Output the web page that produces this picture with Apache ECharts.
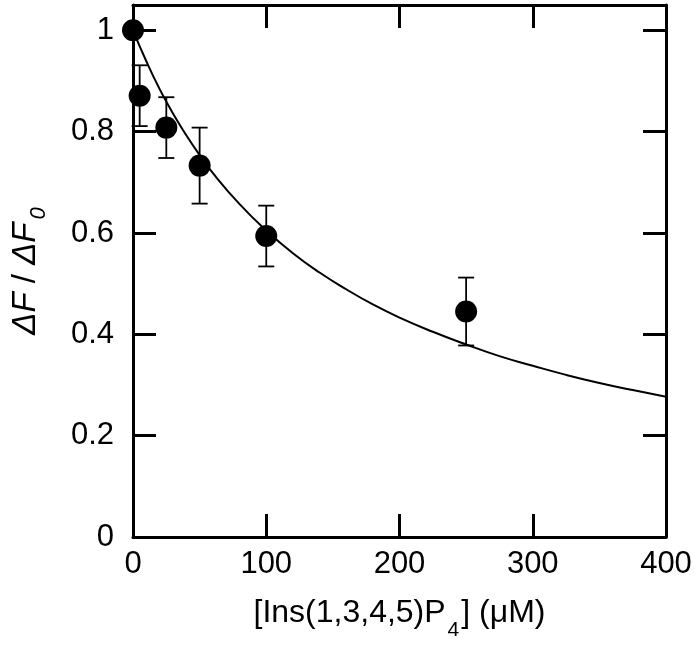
<!DOCTYPE html>
<html>
<head>
<meta charset="utf-8">
<script src="https://cdn.jsdelivr.net/npm/echarts@6/dist/echarts.min.js"></script>
<style>html,body{margin:0;padding:0;background:#fff;}#c{width:697px;height:649px;}</style>
</head>
<body>
<div id="c"></div>
<script>
// Measured points
const xValues = [0, 5, 25, 50, 100, 250];
const yValues = [1.0, 0.871, 0.808, 0.733, 0.594, 0.445];
const yErrors = [0, 0.06, 0.06, 0.075, 0.06, 0.067];
// Fitted curve
const curveX = [0, 10, 20, 30, 40, 50, 60, 80, 100, 120, 140, 160, 180, 200, 225, 250, 275, 300, 325, 350, 375, 400];
const curveY = [1.0, 0.939, 0.884, 0.836, 0.793, 0.754, 0.718, 0.657, 0.605, 0.560, 0.522, 0.489, 0.459, 0.433, 0.405, 0.380, 0.357, 0.338, 0.320, 0.304, 0.290, 0.277];
// Axis ticks
const xTicks = [0, 100, 200, 300, 400];
const yTicks = [0, 0.2, 0.4, 0.6, 0.8, 1];

const FONT = 'Liberation Sans';
const chart = echarts.init(document.getElementById('c'), null, {renderer: 'canvas'});

const axisCommon = {
  axisLine: {show: true, onZero: false, lineStyle: {color: '#000', width: 3}},
  axisTick: {show: true, inside: true, length: 23, lineStyle: {color: '#000', width: 3}},
  splitLine: {show: false}
};

const option = {
  animation: false,
  backgroundColor: '#fff',
  grid: {left: 133, right: 31, top: 5, bottom: 112, containLabel: false, outerBoundsMode: 'none'},
  xAxis: [
    Object.assign({
      type: 'value', position: 'bottom',
      min: xTicks[0], max: xTicks[xTicks.length - 1], interval: xTicks[1] - xTicks[0],
      axisLabel: {show: true, color: '#000', fontFamily: FONT, fontSize: 31, margin: 12},
      name: '{a|[Ins(1,3,4,5)P}{s|4}{a|] (μM)}',
      nameLocation: 'middle', nameGap: 58,
      nameTextStyle: {
        rich: {
          a: {fontFamily: FONT, fontSize: 32, color: '#000', lineHeight: 36},
          s: {fontFamily: FONT, fontSize: 21, color: '#000', lineHeight: 21, padding: [34, 2, 0, 2]}
        }
      }
    }, axisCommon),
    Object.assign({
      type: 'value', position: 'top',
      min: xTicks[0], max: xTicks[xTicks.length - 1], interval: xTicks[1] - xTicks[0],
      axisLabel: {show: false}
    }, axisCommon)
  ],
  yAxis: [
    Object.assign({
      type: 'value', position: 'left',
      min: 0, max: 1.05, interval: yTicks[1] - yTicks[0],
      axisLabel: {show: true, color: '#000', fontFamily: FONT, fontSize: 31, margin: 19,
        formatter: function (v) { return v > 1.001 ? '' : String(Math.round(v * 10) / 10); }},
      name: '{i|ΔF}{n| / }{i|ΔF}{s|0}',
      nameLocation: 'middle', nameRotate: 90, nameGap: 89,
      nameTextStyle: {
        rich: {
          i: {fontFamily: FONT, fontSize: 33, fontStyle: 'italic', color: '#000', lineHeight: 36},
          n: {fontFamily: FONT, fontSize: 33, color: '#000', lineHeight: 36},
          s: {fontFamily: FONT, fontSize: 22, fontStyle: 'italic', color: '#000', lineHeight: 21, padding: [26, 0, 0, 3]}
        }
      }
    }, axisCommon),
    Object.assign({
      type: 'value', position: 'right',
      min: 0, max: 1.05, interval: yTicks[1] - yTicks[0],
      axisLabel: {show: false}
    }, axisCommon)
  ],
  series: [
    {
      type: 'line', xAxisIndex: 0, yAxisIndex: 0,
      data: curveX.map((x, i) => [x, curveY[i]]),
      smooth: true, showSymbol: false, symbol: 'none',
      lineStyle: {color: '#000', width: 2}, z: 2, silent: true
    },
    {
      type: 'custom', xAxisIndex: 0, yAxisIndex: 0, z: 3,
      data: xValues.map((x, i) => [x, yValues[i], yErrors[i]]),
      renderItem: function (params, api) {
        const x = api.value(0), y = api.value(1), e = api.value(2);
        if (!e) return {type: 'group', children: []};
        const top = api.coord([x, y + e]);
        const bot = api.coord([x, y - e]);
        const hw = 8;
        const st = {stroke: '#000', lineWidth: 1.8, fill: null};
        return {
          type: 'group',
          children: [
            {type: 'line', shape: {x1: top[0], y1: top[1], x2: bot[0], y2: bot[1]}, style: st},
            {type: 'line', shape: {x1: top[0] - hw, y1: top[1], x2: top[0] + hw, y2: top[1]}, style: st},
            {type: 'line', shape: {x1: bot[0] - hw, y1: bot[1], x2: bot[0] + hw, y2: bot[1]}, style: st}
          ]
        };
      },
      silent: true
    },
    {
      type: 'scatter', xAxisIndex: 0, yAxisIndex: 0, z: 4,
      data: xValues.map((x, i) => [x, yValues[i]]),
      symbol: 'circle', symbolSize: 22,
      itemStyle: {color: '#000', opacity: 1}, silent: true
    }
  ]
};
chart.setOption(option);
</script>
</body>
</html>
